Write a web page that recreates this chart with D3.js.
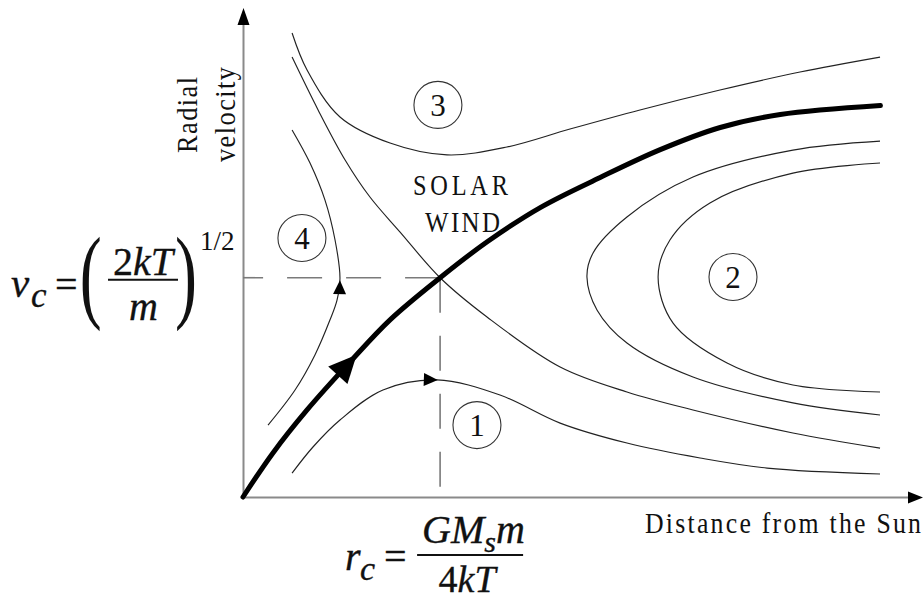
<!DOCTYPE html>
<html>
<head>
<meta charset="utf-8">
<script src="https://cdn.jsdelivr.net/npm/d3@7/dist/d3.min.js"></script>
<style>
  html, body { margin: 0; padding: 0; background: #fff; }
  svg { display: block; }
  text { font-family: "Liberation Serif", "DejaVu Serif", serif; fill: #111; }
  .math text { stroke: #111; stroke-width: 0.35; }
</style>
</head>
<body>
<svg id="chart" width="924" height="601"></svg>
<script>
// Parker solar wind: families of solutions v(r), in units of r_c and v_c.
// Axis extents (r / r_c, v / v_c)
const xMax = 3.45;
const yMax = 2.23;

// Critical point (r_c, v_c)
const critical = [1, 1];

// Transonic accelerating solution (solar wind)
const solarWind = [[0, 0], [0.152, 0.201], [0.325, 0.397], [0.543, 0.616], [0.746, 0.808],
  [1, 1], [1.239, 1.164], [1.508, 1.320], [1.812, 1.457], [2.117, 1.584],
  [2.421, 1.685], [2.726, 1.744], [3.234, 1.785]];

// Decelerating separatrix through the critical point
const separatrix = [[0.249, 2.006], [0.381, 1.765], [0.518, 1.537], [0.644, 1.368], [0.797, 1.208],
  [1, 1], [1.238, 0.821], [1.609, 0.593], [1.948, 0.479], [2.283, 0.397],
  [2.790, 0.292], [3.232, 0.223]];

// Family 1: subsonic everywhere (breeze)
const family1 = [[0.249, 0.109], [0.355, 0.228], [0.492, 0.351], [0.710, 0.488], [0.984, 0.534],
  [1.304, 0.465], [1.609, 0.337], [1.948, 0.246], [2.319, 0.178], [2.659, 0.132], [3.232, 0.105]];

// Family 2: double-valued solutions at large distance
const family2Outer = [[3.232, 1.623], [2.790, 1.582], [2.283, 1.459], [1.948, 1.277], [1.776, 1.113],
  [1.745, 1.003], [1.796, 0.853], [1.948, 0.702], [2.283, 0.547], [2.790, 0.429], [3.232, 0.374]];
const family2Inner = [[3.232, 1.523], [2.790, 1.477], [2.369, 1.341], [2.166, 1.172], [2.106, 1.003],
  [2.182, 0.793], [2.456, 0.611], [2.790, 0.511], [3.232, 0.479]];

// Family 3: supersonic everywhere
const family3 = [[0.249, 2.116], [0.325, 1.947], [0.492, 1.733], [0.746, 1.614], [1.035, 1.560],
  [1.339, 1.596], [1.659, 1.678], [2.014, 1.765], [2.420, 1.856], [2.826, 1.938], [3.232, 2.006]];

// Family 4: double-valued solutions near the Sun
const family4 = [[0.127, 0.328], [0.264, 0.488], [0.365, 0.648], [0.441, 0.807], [0.477, 0.898],
  [0.492, 0.998], [0.467, 1.172], [0.416, 1.354], [0.340, 1.523], [0.249, 1.674]];

// Flow-direction arrows: tip location on each curve
const flowArrows = [
  { curve: "wind", at: [0.568, 0.657] },
  { curve: "f1", at: [0.989, 0.529] },
  { curve: "f4", at: [0.492, 0.990] }
];

// Circled family numbers
const familyLabels = [
  { text: "1", at: [1.187, 0.328] },
  { text: "2", at: [2.486, 1.003] },
  { text: "3", at: [0.989, 1.788] },
  { text: "4", at: [0.299, 1.181] }
];

const xTitle = "Distance from the Sun";
const yTitle = ["Radial", "velocity"];
const regionTitle = ["SOLAR", "WIND"];

const svg = d3.select("#chart");
svg.append("rect").attr("width", 924).attr("height", 601).attr("fill", "#fff");

const x = d3.scaleLinear().domain([0, xMax]).range([243, 923]);
const y = d3.scaleLinear().domain([0, yMax]).range([497, 8]);

const line = d3.line()
  .x(d => x(d[0]))
  .y(d => y(d[1]))
  .curve(d3.curveCatmullRom.alpha(0.5));

// Axes (no ticks) with arrowheads
const axisColor = "#8a8a8a";
const gx = svg.append("g").attr("transform", `translate(0,${y(0)})`)
  .call(d3.axisBottom(x).tickValues([]).tickSizeOuter(0));
const gy = svg.append("g").attr("transform", `translate(${x(0)},0)`)
  .call(d3.axisLeft(y).tickValues([]).tickSizeOuter(0));
[gx, gy].forEach(g => g.select(".domain").attr("stroke", axisColor).attr("stroke-width", 2));
gx.select(".domain").attr("d", `M${x(0)},0.5H${x(xMax) - 10}`);
gy.select(".domain").attr("d", `M0.5,${y(0)}V${y(yMax) + 12}`);

function head(tipX, tipY, angle, len, half) {
  const c = Math.cos(angle), s = Math.sin(angle);
  const bx = tipX - len * c, by = tipY - len * s;
  return `M${tipX},${tipY}L${bx - half * s},${by + half * c}L${bx + half * s},${by - half * c}Z`;
}
svg.append("path").attr("d", head(x(xMax), y(0) + 0.5, 0, 15, 6)).attr("fill", "#000");
svg.append("path").attr("d", head(x(0) + 0.5, y(yMax), -Math.PI / 2, 17, 6)).attr("fill", "#000");

// Dashed guides from the critical point to both axes
const guide = svg.append("g").attr("stroke", "#7a7a7a").attr("stroke-width", 1.6)
  .attr("fill", "none").attr("stroke-dasharray", "35,24");
guide.append("path").attr("d", `M${x(critical[0])},${y(critical[1])}H${x(0)}`);
guide.append("path").attr("d", `M${x(critical[0])},${y(critical[1])}V${y(0)}`)
  .attr("stroke-dasharray", "35,23");

// Solution curves
const thin = svg.append("g").attr("fill", "none").attr("stroke", "#222").attr("stroke-width", 1.15);
const paths = {};
paths.sep = thin.append("path").attr("d", line(separatrix));
paths.f1 = thin.append("path").attr("d", line(family1));
paths.f2o = thin.append("path").attr("d", line(family2Outer));
paths.f2i = thin.append("path").attr("d", line(family2Inner));
paths.f3 = thin.append("path").attr("d", line(family3));
paths.f4 = thin.append("path").attr("d", line(family4));
paths.wind = svg.append("path").attr("d", line(solarWind))
  .attr("fill", "none").attr("stroke", "#000").attr("stroke-width", 5)
  .attr("stroke-linecap", "round");

// Arrowheads along curves, oriented with the local tangent
function arrowOnPath(node, tx, ty, len, half) {
  const total = node.getTotalLength();
  let best = 0, bestD = Infinity;
  for (let l = 0; l <= total; l += 0.5) {
    const p = node.getPointAtLength(l);
    const d = (p.x - tx) ** 2 + (p.y - ty) ** 2;
    if (d < bestD) { bestD = d; best = l; }
  }
  const a = node.getPointAtLength(Math.max(0, best - 4));
  const b = node.getPointAtLength(Math.min(total, best + 4));
  const p = node.getPointAtLength(best);
  return head(p.x, p.y, Math.atan2(b.y - a.y, b.x - a.x), len, half);
}
flowArrows.forEach(f => {
  const big = f.curve === "wind";
  svg.append("path")
    .attr("d", arrowOnPath(paths[f.curve].node(), x(f.at[0]), y(f.at[1]), big ? 28 : 14, big ? 13 : 6.5))
    .attr("fill", "#000");
});

// Circled family numbers
const lab = svg.append("g").selectAll("g").data(familyLabels).join("g")
  .attr("transform", d => `translate(${x(d.at[0])},${y(d.at[1])})`);
lab.append("ellipse").attr("rx", 24).attr("ry", 23.5)
  .attr("fill", "none").attr("stroke", "#333").attr("stroke-width", 1.1);
lab.append("text").attr("text-anchor", "middle").attr("y", 11)
  .attr("font-size", 31).text(d => d.text);

// Condensed, letter-spaced caption text: narrow glyphs stretched over a fixed span
function caption(transform, str, size, span, squeeze) {
  return svg.append("text")
    .attr("transform", `${transform} scale(${squeeze},1)`)
    .attr("font-size", size)
    .attr("textLength", span / squeeze)
    .attr("lengthAdjust", "spacing")
    .text(str);
}

// Region title
caption("translate(413,195)", regionTitle[0], 29, 95, 0.84);
caption("translate(425,232)", regionTitle[1], 29, 75, 0.86);

// Axis titles
caption("translate(645,533)", xTitle, 30, 276, 0.86);
caption("translate(197,153) rotate(-90)", yTitle[0], 30, 76, 0.88);
caption("translate(235,162) rotate(-90)", yTitle[1], 30, 95, 0.88);

// v_c = (2kT/m)^(1/2), aligned with the critical speed
const vc = svg.append("g").attr("class", "math").attr("transform", `translate(0,${y(critical[1])})`);
vc.append("text").attr("x", 11).attr("y", 19).attr("font-size", 41).attr("font-style", "italic").text("v");
vc.append("text").attr("x", 31).attr("y", 29).attr("font-size", 35).attr("font-style", "italic").text("c");
vc.append("text").attr("x", 55).attr("y", 20).attr("font-size", 40).text("=");
vc.append("text").attr("transform", "translate(79.7,31.6) scale(0.66,1.03)").attr("font-size", 100)
  .style("stroke-width", 0).text("(");
const num1 = vc.append("text").attr("x", 143).attr("y", -3).attr("font-size", 40).attr("text-anchor", "middle");
num1.append("tspan").text("2");
num1.append("tspan").attr("font-style", "italic").text("kT");
vc.append("line").attr("x1", 108).attr("x2", 178).attr("y1", 2).attr("y2", 2)
  .attr("stroke", "#111").attr("stroke-width", 2);
vc.append("text").attr("x", 143.5).attr("y", 42).attr("font-size", 40).attr("font-style", "italic")
  .attr("text-anchor", "middle").text("m");
vc.append("text").attr("transform", "translate(175,31.6) scale(0.66,1.03)").attr("font-size", 100)
  .style("stroke-width", 0).text(")");
vc.append("text").attr("x", 200).attr("y", -28).attr("font-size", 27).style("stroke-width", 0).text("1/2");

// r_c = G M_s m / 4kT, aligned with the critical radius
const rc = svg.append("g").attr("class", "math").attr("transform", `translate(${x(critical[0])},0)`);
rc.append("text").attr("x", -95).attr("y", 570).attr("font-size", 40).attr("font-style", "italic").text("r");
rc.append("text").attr("x", -80).attr("y", 580).attr("font-size", 34).attr("font-style", "italic").text("c");
rc.append("text").attr("x", -56).attr("y", 570).attr("font-size", 40).text("=");
rc.append("line").attr("x1", -23).attr("x2", 83).attr("y1", 555).attr("y2", 555)
  .attr("stroke", "#111").attr("stroke-width", 2);
const num2 = rc.append("text").attr("x", -18).attr("y", 543).attr("font-size", 40).attr("font-style", "italic");
num2.append("tspan").text("GM");
num2.append("tspan").attr("font-size", 30).attr("dy", 9).text("s");
num2.append("tspan").attr("dy", -9).text("m");
const den2 = rc.append("text").attr("x", 27).attr("y", 592).attr("font-size", 38).attr("text-anchor", "middle");
den2.append("tspan").text("4");
den2.append("tspan").attr("font-style", "italic").text("kT");
</script>
</body>
</html>
